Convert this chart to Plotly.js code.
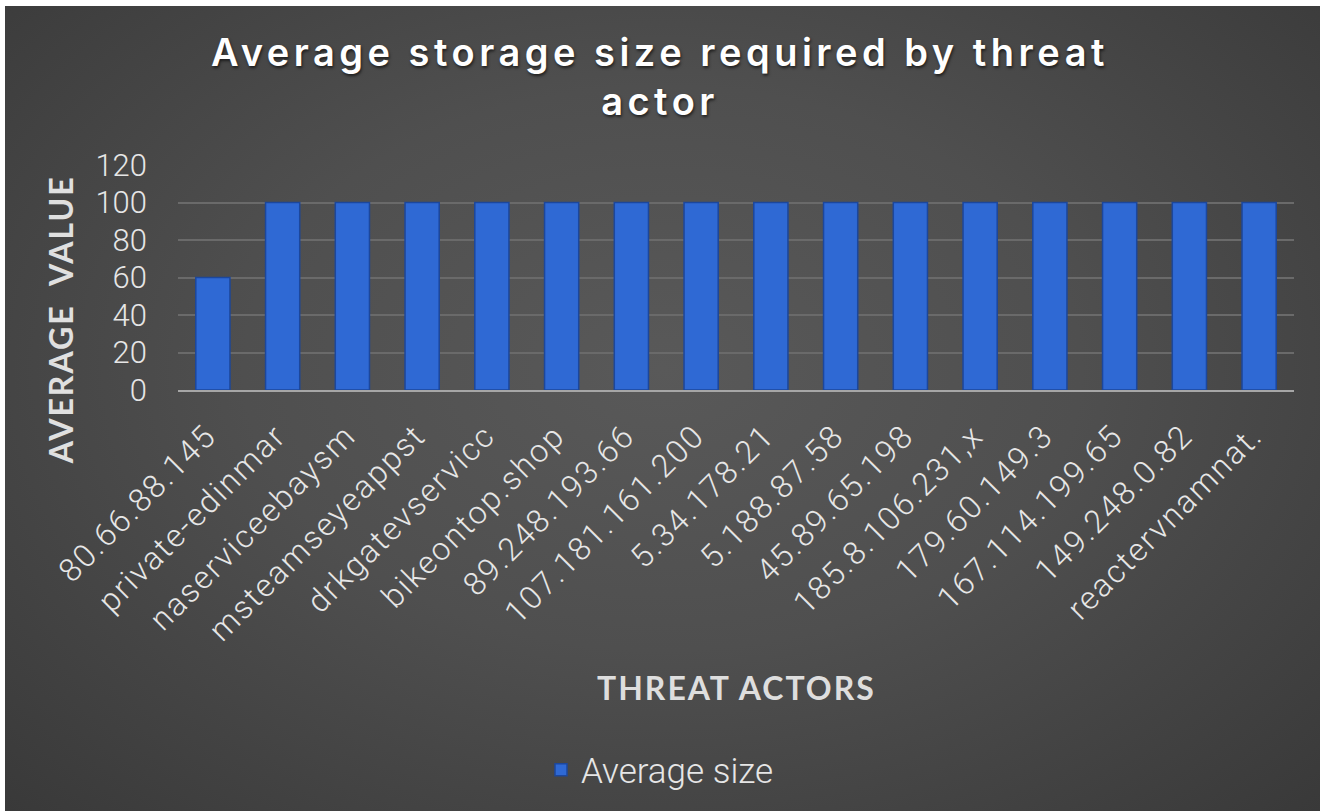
<!DOCTYPE html>
<html>
<head>
<meta charset="utf-8">
<script src="https://cdn.plot.ly/plotly-3.0.1.min.js"></script>
<style>
  html, body { margin: 0; padding: 0; background: #ffffff; width: 1320px; height: 811px; overflow: hidden; }
  #bg { position: absolute; left: 5px; top: 6px; width: 1315px; height: 805px;
        background: radial-gradient(ellipse at 50% 45%, #595959 0%, #4f4f4f 45%, #393939 100%); }
  #chart { position: absolute; left: 0; top: 0; width: 1320px; height: 811px; }
  #chart .gtitle { letter-spacing: 4.5px; }
  #chart .xtick text { letter-spacing: 2px; }
  #chart .annotation-text { letter-spacing: 2px; }
</style>
</head>
<body>
<div id="bg"></div>
<div id="chart"></div>
<script>
const categories = ["80.66.88.145", "private-edinmar", "naserviceebaysm", "msteamseyeappst", "drkgatevservicc", "bikeontop.shop", "89.248.193.66", "107.181.161.200", "5.34.178.21", "5.188.87.58", "45.89.65.198", "185.8.106.231,x", "179.60.149.3", "167.114.199.65", "149.248.0.82", "reactervnamnat."];
const averageSize = [60, 100, 100, 100, 100, 100, 100, 100, 100, 100, 100, 100, 100, 100, 100, 100];
const yTicks = [0, 20, 40, 60, 80, 100, 120];
const titleText = 'Average storage size required by threat<br>actor';
const xTitle = 'THREAT ACTORS';
const yTitle = 'AVERAGE  VALUE';
const seriesName = 'Average size';

const trace = {
  type: 'bar',
  x: categories,
  y: averageSize,
  name: seriesName,
  width: 0.49,
  marker: { color: '#2f69d4', line: { color: '#1c479c', width: 1.5 } },
  hoverinfo: 'x+y'
};

// plot area: x 178..1294 px, y 164.5..390 px
const plotL = 178, plotR = 1294, plotT = 164.5, plotB = 390;
const px2paperX = px => (px - plotL) / (plotR - plotL);
const px2paperY = py => (plotB - py) / (plotB - plotT);

const layout = {
  width: 1320, height: 811,
  paper_bgcolor: 'rgba(0,0,0,0)',
  plot_bgcolor: 'rgba(0,0,0,0)',
  margin: { l: plotL, r: 1320 - plotR, t: plotT, b: 811 - plotB },
  font: { family: 'Roboto, Lato, sans-serif', color: '#e6e6e6' },
  title: {
    text: titleText,
    font: { family: 'Inter, Lato, sans-serif', size: 38, color: '#ffffff', weight: 600,
            shadow: '1px 2px 3px rgba(0,0,0,0.6)' },
    x: 0.5, xanchor: 'center', xref: 'container',
    y: 1 - 66 / 811, yanchor: 'middle', yref: 'container'
  },
  xaxis: {
    type: 'category',
    range: [-0.5, categories.length - 0.5],
    tickangle: -45,
    tickfont: { size: 32, color: '#e6e6e6', family: 'Roboto, sans-serif', weight: 300 },
    ticklabelshift: -6,
    ticklabelstandoff: 12,
    showgrid: false,
    showline: true, linecolor: '#a6a6a6', linewidth: 2,
    ticks: '',
    automargin: false
  },
  yaxis: {
    range: [0, 120],
    tickvals: yTicks,
    ticktext: yTicks.map(String),
    tickfont: { size: 31, color: '#e6e6e6', family: 'Roboto, sans-serif', weight: 300 },
    showgrid: true, gridcolor: '#6a6a6a', gridwidth: 1.5,
    zeroline: false,
    showline: false,
    ticks: '',
    ticklabelstandoff: 30,
    automargin: false
  },
  annotations: [{
    text: xTitle,
    xref: 'paper', yref: 'paper',
    x: px2paperX(736), y: px2paperY(688),
    xanchor: 'center', yanchor: 'middle',
    showarrow: false,
    font: { size: 32, color: '#dedede', family: 'Lato, sans-serif', weight: 'bold' }
  }, {
    text: yTitle,
    xref: 'paper', yref: 'paper',
    x: px2paperX(60), y: px2paperY(320),
    xanchor: 'center', yanchor: 'middle',
    textangle: -90,
    showarrow: false,
    font: { size: 32, color: '#e0e0e0', family: 'Lato, sans-serif', weight: 'bold' }
  }],
  showlegend: true,
  legend: {
    orientation: 'h',
    x: 0.5, xanchor: 'center', xref: 'container',
    y: 1 - 770 / 811, yanchor: 'middle', yref: 'container',
    font: { size: 35, color: '#e6e6e6', family: 'Roboto, sans-serif', weight: 300 },
    bgcolor: 'rgba(0,0,0,0)'
  },
  bargap: 0.51
};

Plotly.newPlot('chart', [trace], layout, { displayModeBar: false });
</script>
</body>
</html>
